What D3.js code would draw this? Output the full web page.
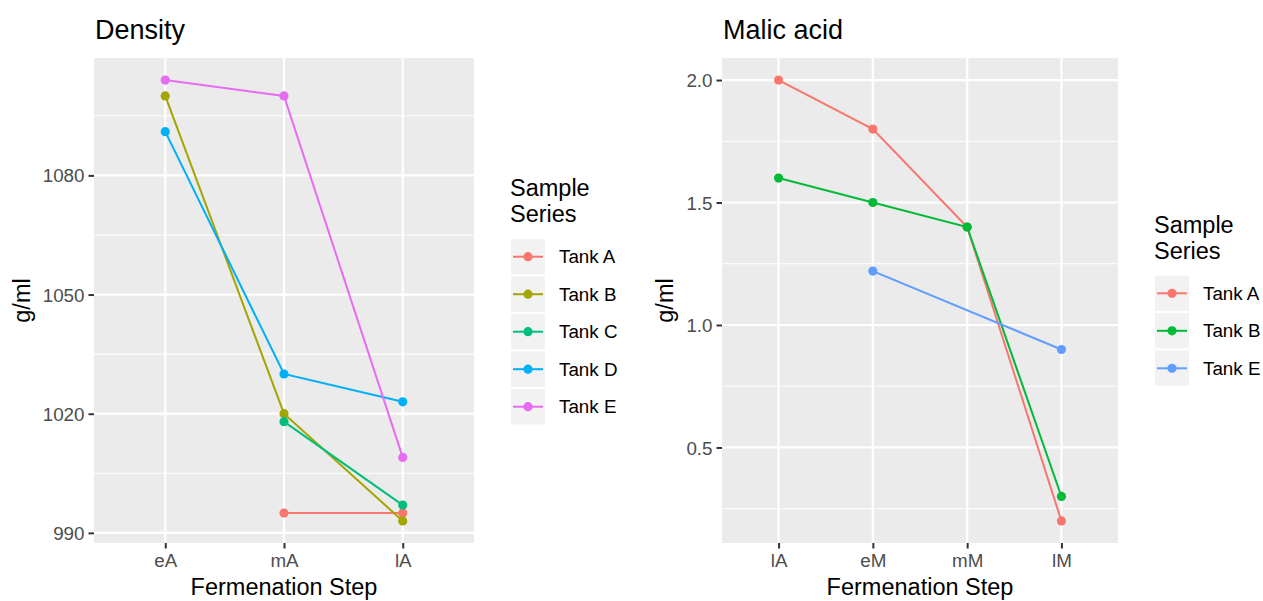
<!DOCTYPE html>
<html><head><meta charset="utf-8">
<script src="https://cdn.jsdelivr.net/npm/d3@7/dist/d3.min.js"></script>
<style>
body{margin:0;background:#fff;}
text{font-family:"Liberation Sans",Arial,Helvetica,sans-serif;}
</style></head>
<body><svg id="c" width="1263" height="601"></svg>
<script>
// ---- Data ----
const densitySteps = ["eA","mA","lA"];
const densityTanks = ["Tank A","Tank B","Tank C","Tank D","Tank E"];
const densityColors = ["#F8766D","#A3A500","#00BF7D","#00B0F6","#E76BF3"];
const densityTankA = [null, 995, 995];
const densityTankB = [1100, 1020, 993];
const densityTankC = [null, 1018, 997];
const densityTankD = [1091, 1030, 1023];
const densityTankE = [1104, 1100, 1009];
const densityTicks = [990, 1020, 1050, 1080];
const densityMinor = [1005, 1035, 1065, 1095];

const malicSteps = ["lA","eM","mM","lM"];
const malicTanks = ["Tank A","Tank B","Tank E"];
const malicColors = ["#F8766D","#00BA38","#619CFF"];
const malicTankA = [2.0, 1.8, 1.4, 0.2];
const malicTankB = [1.6, 1.5, 1.4, 0.3];
const malicTankE = [null, 1.22, null, 0.9];
const malicTicks = [0.5, 1.0, 1.5, 2.0];
const malicMinor = [0.25, 0.75, 1.25, 1.75];

const svg = d3.select("#c");

function panel(opt){
  const g = svg.append("g");
  const {x0,x1,y0,y1} = opt;
  const x = d3.scalePoint().domain(opt.steps).range([x0,x1]).padding(0.6);
  const all = opt.series.flat().filter(v=>v!=null);
  const ext = d3.extent(all), pad = (ext[1]-ext[0])*0.05;
  const y = d3.scaleLinear().domain([ext[0]-pad, ext[1]+pad]).range([y1,y0]);
  g.append("rect").attr("x",x0).attr("y",y0).attr("width",x1-x0).attr("height",y1-y0).attr("fill","#EBEBEB");
  // minor grid
  g.selectAll(".mn").data(opt.minor).enter().append("line")
    .attr("x1",x0).attr("x2",x1).attr("y1",d=>y(d)).attr("y2",d=>y(d))
    .attr("stroke","#fff").attr("stroke-width",1.1);
  g.selectAll(".mj").data(opt.ticks).enter().append("line")
    .attr("x1",x0).attr("x2",x1).attr("y1",d=>y(d)).attr("y2",d=>y(d))
    .attr("stroke","#fff").attr("stroke-width",2.2);
  g.selectAll(".mv").data(opt.steps).enter().append("line")
    .attr("y1",y0).attr("y2",y1).attr("x1",d=>x(d)).attr("x2",d=>x(d))
    .attr("stroke","#fff").attr("stroke-width",2.2);
  // series
  opt.series.forEach((s,i)=>{
    const pts = s.map((v,j)=>({k:opt.steps[j],v})).filter(d=>d.v!=null);
    g.append("path").datum(pts)
      .attr("d", d3.line().x(d=>x(d.k)).y(d=>y(d.v)))
      .attr("fill","none").attr("stroke",opt.colors[i]).attr("stroke-width",2);
    g.selectAll(null).data(pts).enter().append("circle")
      .attr("cx",d=>x(d.k)).attr("cy",d=>y(d.v)).attr("r",4.6).attr("fill",opt.colors[i]);
  });
  // axes
  const ya = g.append("g").attr("transform",`translate(${x0},0)`)
    .call(d3.axisLeft(y).tickValues(opt.ticks).tickFormat(opt.fmt).tickSize(5.5).tickPadding(4));
  ya.select(".domain").remove();
  ya.selectAll("line").attr("stroke","#333").attr("stroke-width",2);
  ya.selectAll("text").attr("fill","#4D4D4D").style("font-size","18.8px")
    .attr("dy","0.35em");
  const xa = g.append("g").attr("transform",`translate(0,${y1})`)
    .call(d3.axisBottom(x).tickSize(5.5).tickPadding(4));
  xa.select(".domain").remove();
  xa.selectAll("line").attr("stroke","#333").attr("stroke-width",2);
  xa.selectAll("text").attr("fill","#4D4D4D").style("font-size","18.8px").attr("dy","0.78em");
  // titles
  g.append("text").attr("x",x0+1).attr("y",39).text(opt.title)
    .style("font-size","27px").attr("fill","#000");
  g.append("text").attr("x",(x0+x1)/2).attr("y",595).attr("text-anchor","middle")
    .text("Fermenation Step").style("font-size","23.5px").attr("fill","#000");
  g.append("text").attr("transform",`translate(${opt.ylabX},${(y0+y1)/2}) rotate(-90)`)
    .attr("text-anchor","middle").text("g/ml").style("font-size","23.5px").attr("fill","#000");
  // legend
  const L = opt.legend;
  g.append("text").attr("x",L.x).attr("y",L.ty).text("Sample").style("font-size","23.5px");
  g.append("text").attr("x",L.x).attr("y",L.ty+25.7).text("Series").style("font-size","23.5px");
  opt.names.forEach((n,i)=>{
    const cy = L.cy0 + i*37.5;
    g.append("rect").attr("x",L.x).attr("y",cy-18.75).attr("width",36).attr("height",37.5)
      .attr("fill","#F2F2F2").attr("stroke","#fff").attr("stroke-width",2);
    g.append("line").attr("x1",L.x+3).attr("x2",L.x+33).attr("y1",cy).attr("y2",cy)
      .attr("stroke",opt.colors[i]).attr("stroke-width",2);
    g.append("circle").attr("cx",L.x+18).attr("cy",cy).attr("r",4.6).attr("fill",opt.colors[i]);
    g.append("text").attr("x",L.x+49).attr("y",cy).attr("dy","0.35em").text(n)
      .style("font-size","18.8px").attr("fill","#000");
  });
}

panel({x0:94,x1:474,y0:58,y1:543,steps:densitySteps,
  series:[densityTankA,densityTankB,densityTankC,densityTankD,densityTankE],
  colors:densityColors,names:densityTanks,ticks:densityTicks,minor:densityMinor,
  fmt:d3.format("d"),title:"Density",ylabX:30,
  legend:{x:510,ty:196,cy0:256.7}});

panel({x0:722,x1:1118,y0:58,y1:543,steps:malicSteps,
  series:[malicTankA,malicTankB,malicTankE],
  colors:malicColors,names:malicTanks,ticks:malicTicks,minor:malicMinor,
  fmt:d3.format(".1f"),title:"Malic acid",ylabX:673,
  legend:{x:1154,ty:233,cy0:293.3}});
</script></body></html>
